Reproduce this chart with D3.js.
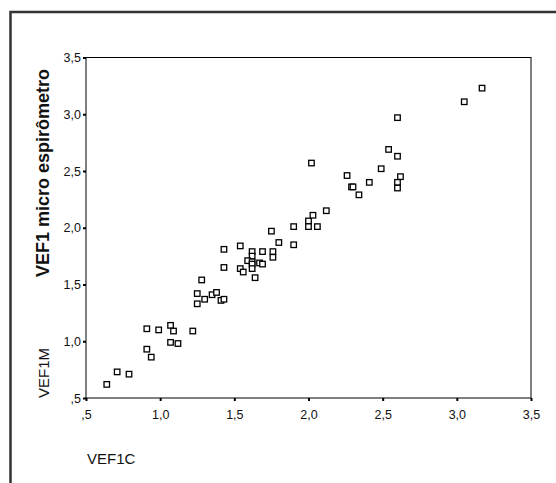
<!DOCTYPE html>
<html>
<head>
<meta charset="utf-8">
<script src="https://cdn.jsdelivr.net/npm/d3@7"></script>
<style>
  body { margin: 0; background: #fff; }
  svg text { font-family: "Liberation Sans", Arial, sans-serif; fill: #111; }
</style>
</head>
<body>
<div id="chart"></div>
<script>
// VEF1 clinic spirometer (x) vs micro spirometer (y)
const vef1c = [0.64, 0.71, 0.79, 0.91, 0.99, 1.07, 1.09, 1.22, 0.91, 0.94,
  1.07, 1.12, 1.25, 1.30, 1.25, 1.35, 1.38, 1.41, 1.43, 1.28,
  1.43, 1.54, 1.62, 1.69, 1.76, 1.76, 1.80, 1.90, 1.75, 1.62,
  1.59, 1.62, 1.62, 1.67, 1.69, 1.43, 1.54, 1.56, 1.62, 1.64,
  1.90, 2.00, 2.00, 2.06, 2.03, 2.12, 2.02, 2.26, 2.29, 2.30,
  2.34, 2.41, 2.49, 2.54, 2.60, 2.60, 2.62, 2.60, 2.60, 3.05, 3.17];
const vef1m = [0.62, 0.73, 0.71, 1.11, 1.10, 1.14, 1.09, 1.09, 0.93, 0.86,
  0.99, 0.98, 1.42, 1.37, 1.33, 1.41, 1.43, 1.36, 1.37, 1.54,
  1.81, 1.84, 1.79, 1.79, 1.79, 1.74, 1.87, 1.85, 1.97, 1.75,
  1.71, 1.70, 1.68, 1.69, 1.68, 1.65, 1.64, 1.61, 1.64, 1.56,
  2.01, 2.06, 2.01, 2.01, 2.11, 2.15, 2.57, 2.46, 2.36, 2.36,
  2.29, 2.40, 2.52, 2.69, 2.63, 2.97, 2.45, 2.40, 2.35, 3.11, 3.23];
const tickValues = [0.5, 1.0, 1.5, 2.0, 2.5, 3.0, 3.5];
const xTitle = "VEF1C";
const yTitle = "VEF1M";
const yLabel = "VEF1 micro espirômetro";

const width = 556, height = 483;
const margin = {top: 57.5, right: 25, bottom: 85, left: 86};

// SPSS style numbers: comma decimal, no leading zero
const fmt = d => d3.format(".1f")(d).replace(".", ",").replace(/^0/, "");

const svg = d3.select("#chart").append("svg")
  .attr("width", width).attr("height", height);

// outer chart frame, only left and top edges visible
svg.append("path")
  .attr("d", "M10.5," + height + " V12 H" + width)
  .attr("fill", "none").attr("stroke", "#333").attr("stroke-width", 2.5);

const x = d3.scaleLinear().domain([0.5, 3.5]).range([margin.left, width - margin.right]);
const y = d3.scaleLinear().domain([0.5, 3.5]).range([height - margin.bottom, margin.top]);

// plot box
svg.append("rect")
  .attr("x", x(0.5)).attr("y", y(3.5))
  .attr("width", x(3.5) - x(0.5)).attr("height", y(0.5) - y(3.5))
  .attr("fill", "none").attr("stroke", "#000").attr("stroke-width", 1);

const xAxis = svg.append("g")
  .attr("transform", "translate(0," + y(0.5) + ")")
  .call(d3.axisBottom(x).tickValues(tickValues).tickFormat(fmt).tickSize(3).tickPadding(9));
const yAxis = svg.append("g")
  .attr("transform", "translate(" + x(0.5) + ",0)")
  .call(d3.axisLeft(y).tickValues(tickValues).tickFormat(fmt).tickSize(3).tickPadding(2));

[xAxis, yAxis].forEach(g => {
  g.select(".domain").remove();
  g.selectAll(".tick line").attr("stroke", "#000").attr("stroke-width", 2);
  g.selectAll(".tick text")
    .style("font-family", '"Liberation Sans", Arial, sans-serif')
    .style("font-size", "12.5px").attr("fill", "#111");
});

// points
svg.append("g").selectAll("rect")
  .data(d3.zip(vef1c, vef1m))
  .join("rect")
  .attr("x", d => x(d[0]) - 2.75)
  .attr("y", d => y(d[1]) - 2.75)
  .attr("width", 5.5).attr("height", 5.5)
  .attr("fill", "#fff").attr("stroke", "#000").attr("stroke-width", 1.3);

// axis titles
svg.append("text")
  .attr("x", 87).attr("y", 464)
  .style("font-size", "15px")
  .text(xTitle);

svg.append("text")
  .attr("transform", "translate(49," + y(0.5) + ") rotate(-90)")
  .style("font-size", "15px")
  .text(yTitle);

svg.append("text")
  .attr("transform", "translate(49,277) rotate(-90)")
  .style("font-size", "18px").style("font-weight", "bold")
  .text(yLabel);
</script>
</body>
</html>
